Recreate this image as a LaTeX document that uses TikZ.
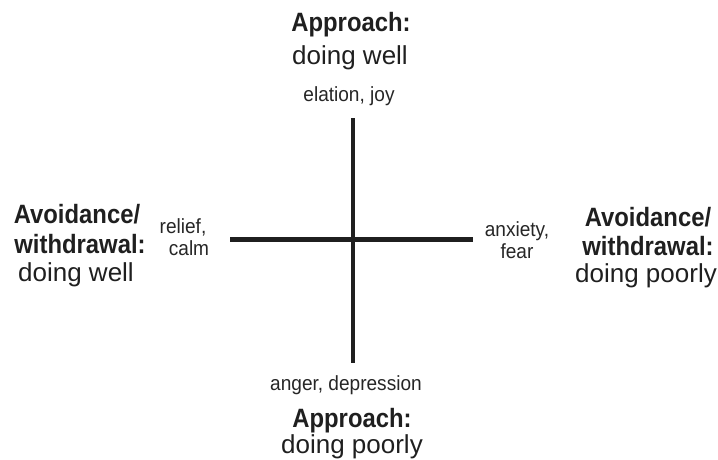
\documentclass[tikz,border=0pt]{standalone}
\usepackage{fontspec}
\setmainfont{Liberation Sans}
\newfontfamily\headfont[FakeStretch=0.9]{Liberation Sans}
\newfontfamily\feelfont[FakeStretch=0.93]{Liberation Sans}
\begin{document}
\begin{tikzpicture}[
            x=1pt, y=-1pt,
            axis/.style={line width=4.5pt, draw=black!88},
            head/.style={anchor=base, inner sep=0pt, text=black!88, font=\headfont\fontsize{26.5}{30}\selectfont\bfseries},
            sub/.style={anchor=base, inner sep=0pt, text=black!88, font=\fontsize{26}{30}\selectfont},
            feel/.style={anchor=base, inner sep=0pt, text=black!85, font=\feelfont\fontsize{20.5}{24}\selectfont}
        ]
        \useasboundingbox (0, 0) rectangle (718, 460);

        % Achsen
        \coordinate (vtop) at (353, 118);
        \coordinate (vbot) at (353, 363);
        \coordinate (hleft) at (230, 239.5);
        \coordinate (hright) at (473, 239.5);
        \draw[axis] (vtop) -- (vbot);
        \draw[axis] (hleft) -- (hright);

        % oben
        \node[head] (topA) at (351, 31.5) {Approach:};
        \node[sub] (topB) at (350, 65) {doing well};
        \node[feel] (topF) at (349, 101.5) {elation, joy};

        % unten
        \node[feel] (botF) at (346, 390) {anger, depression};
        \node[head] (botA) at (352, 427) {Approach:};
        \node[sub] (botB) at (352, 453) {doing poorly};

        % links
        \node[head] (leftA) at (77, 223) {Avoidance/};
        \node[head] (leftB) at (80, 253) {withdrawal:};
        \node[sub] (leftC) at (76, 281.5) {doing well};
        \node[feel] (leftF) at (183, 233) {relief,};
        \node[feel] (leftG) at (189, 255) {calm};

        % rechts
        \node[feel] (rightF) at (517, 236) {anxiety,};
        \node[feel] (rightG) at (517, 258) {fear};
        \node[head] (rightA) at (648, 226) {Avoidance/};
        \node[head] (rightB) at (648, 255) {withdrawal:};
        \node[sub] (rightC) at (646, 282) {doing poorly};
    \end{tikzpicture}
\end{document}
